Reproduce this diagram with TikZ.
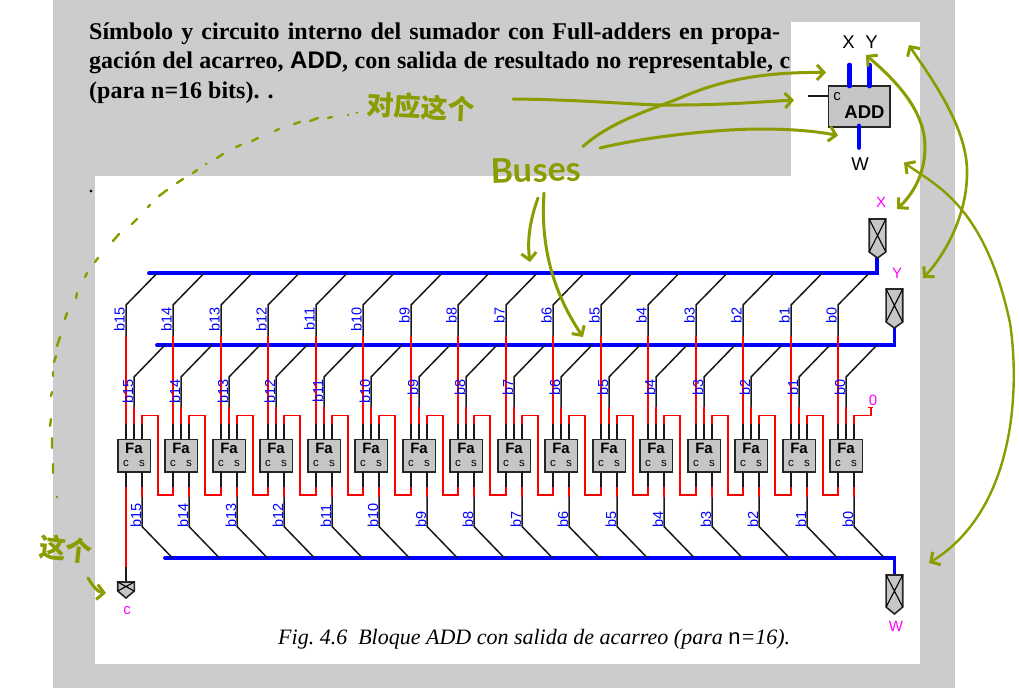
\documentclass[tikz,border=0pt]{standalone}
\usepackage{fontspec}
\setmainfont{Liberation Serif}
\setsansfont{Liberation Sans}
\newfontfamily\cjk{Noto Sans CJK SC}
\newfontfamily\hand{Lato}
\usetikzlibrary{arrows.meta}
\definecolor{panelgray}{HTML}{CCCCCC}
\definecolor{fagray}{HTML}{C6C6C6}
\definecolor{inkolive}{HTML}{8A9C00}
\definecolor{pinmagenta}{HTML}{FF00FF}
\newcommand{\pinbox}[4]{% x, top, side bottom, tip
  \draw[pinstyle] (#1-8.3,#2) -- (#1+8.3,#2) -- (#1+8.3,#3) -- (#1,#4) -- (#1-8.3,#3) -- cycle;
  \draw[line width=1.1pt,black] (#1-8.3,#2) -- (#1+8.3,#3) (#1+8.3,#2) -- (#1-8.3,#3);
}
\tikzset{
  wire/.style={line width=1.5pt,black!90},
  redwire/.style={line width=1.5pt,red,line join=miter},
  busline/.style={line width=3.8pt,blue,line cap=round,line join=miter},
  symbus/.style={line width=4.8pt,blue,line cap=round},
  pinstyle/.style={line width=1.6pt,draw=black!85,fill=fagray,line join=miter},
  fabox/.style={draw=black!85,line width=1.5pt,fill=fagray,minimum width=32.5pt,minimum height=32.5pt,inner sep=0pt,outer sep=0pt},
  fatitle/.style={font=\sffamily\bfseries\fontsize{15}{15}\selectfont,inner sep=0pt},
  faport/.style={font=\sffamily\fontsize{11.5}{11.5}\selectfont,inner sep=0pt},
  buslabel/.style={font=\sffamily\fontsize{14.5}{14.5}\selectfont,text=blue,rotate=90,inner sep=0pt},
  pinlabel/.style={font=\sffamily\fontsize{15}{15}\selectfont,text=pinmagenta,inner sep=0pt},
  symlabel/.style={font=\sffamily\fontsize{18.5}{18.5}\selectfont,inner sep=0pt},
  titleline/.style={font=\bfseries\fontsize{24}{24}\selectfont,inner sep=0pt,anchor=base west},
  ink/.style={line width=3pt,inkolive,line cap=round,line join=round},
  inkarrow/.style={ink,-{Straight Barb[length=7pt,width=15pt,line width=3pt]}},
  inkboth/.style={ink,{Straight Barb[length=7pt,width=15pt,line width=3pt]}-{Straight Barb[length=7pt,width=15pt,line width=3pt]}},
  inktext/.style={text=inkolive,inner sep=0pt},
}
\begin{document}
\begin{tikzpicture}[x=1pt,y=-1pt]
\useasboundingbox (0,0) rectangle (1019,688);
\fill[white] (0,0) rectangle (1019,688);
\fill[panelgray] (53,0) rectangle (955,688);
\fill[white] (791,22) rectangle (920,176);
\fill[white] (95,176) rectangle (920,664);

% title
\node[titleline] (t1) at (89,39) {\makebox[691pt][s]{Símbolo y circuito interno del sumador con Full-adders en propa-}};
\node[titleline] (t2) at (89,68.5) {\makebox[701pt][s]{gación del acarreo, {\sffamily ADD}, con salida de resultado no representable, c}};
\node[titleline] (t3) at (89,98) {(para n=16 bits). .};
\node[font=\fontsize{22}{22}\selectfont,inner sep=0pt,anchor=base] (dot) at (91,192) {.};

% ADD symbol
\node[draw=black!85,line width=1.6pt,fill=fagray,minimum width=61.5pt,minimum height=41.3pt,inner sep=0pt,outer sep=0pt] (add) at (859.2,106.4) {};
\node[font=\sffamily\bfseries\fontsize{18.5}{18.5}\selectfont,inner sep=0pt] (addt) at (864.5,112.5) {ADD};
\node[font=\sffamily\fontsize{15}{15}\selectfont,inner sep=0pt] (addc) at (837,96.5) {c};
\node[symlabel] (lx) at (848.5,42) {X};
\node[symlabel] (ly) at (871.5,42) {Y};
\node[symlabel] (lw) at (860,164) {W};
\coordinate (xs) at (849.3,65);
\coordinate (ys) at (869.3,65);
\coordinate (ws) at (859,147.5);
\coordinate (cs) at (808,96);
\coordinate (ca) at (828.4,96);
\coordinate (xa) at (849.3,86);
\coordinate (ya) at (869.3,86);
\coordinate (wa) at (859,126);
\draw[symbus] (xs) -- (xa);
\draw[symbus] (ys) -- (ya);
\draw[symbus] (wa) -- (ws);
\draw[wire] (cs) -- (ca);

% buses
\coordinate (b1l) at (149,273.3);
\coordinate (b1r) at (877,273.3);
\coordinate (b2l) at (157,345);
\coordinate (b2r) at (894.4,345);
\coordinate (b3l) at (165,558);
\coordinate (b3r) at (894.4,558);
\coordinate (pxb) at (877,258);
\coordinate (pyb) at (894.4,328);
\coordinate (pwt) at (894.4,575);
\draw[busline] (b1l) -- (b1r) -- (pxb);
\draw[busline] (b2l) -- (b2r) -- (pyb);
\draw[busline] (b3l) -- (b3r) -- (pwt);

% full adders
\foreach \b in {0,...,15}{
  \pgfmathsetmacro{\xa}{round(838.3-47.49*\b)}
  \pgfmathsetmacro{\xb}{\xa+8}
  \pgfmathsetmacro{\xc}{\xa+16}
  \node[fabox] (fa\b) at (\xa+8,455.7) {};
  \node[fatitle] (fat\b) at (\xa+8,448) {Fa};
  \node[faport] (fac\b) at (\xa,463) {c};
  \node[faport] (fas\b) at (\xc,463) {s};
  % upper X bus tap
  \draw[wire] (\xa+31,273.3) -- (\xa,305) -- (\xa,336);
  \draw[redwire] (\xa,336) -- (\xa,424);
  \draw[wire] (\xa,424) -- (\xa,439.4);
  % Y bus tap
  \draw[wire] (\xb+31,345) -- (\xb,377) -- (\xb,407);
  \draw[redwire] (\xb,407) -- (\xb,424);
  \draw[wire] (\xb,424) -- (\xb,439.4);
  % result
  \draw[wire] (\xc,472) -- (\xc,487);
  \draw[redwire] (\xc,487) -- (\xc,497);
  \draw[wire] (\xc,497) -- (\xc,526.5) -- (\xc+30.5,558);
  % labels
  \node[buslabel,anchor=east] (lu\b) at (\xa-6.5,307) {b\b};
  \node[buslabel,anchor=east] (lm\b) at (\xa+2,379) {b\b};
  \node[buslabel,anchor=west] (ld\b) at (\xa+10,527.5) {b\b};
  % carry-in stub
  \draw[wire] (\xc,439.4) -- (\xc,424);
}
% carry chain
\foreach \b in {0,...,14}{
  \pgfmathsetmacro{\xa}{round(838.3-47.49*(\b+1))}
  \pgfmathsetmacro{\xe}{round(838.3-47.49*\b)}
  \pgfmathsetmacro{\xc}{\xa+16}
  \pgfmathsetmacro{\xd}{\xa+32}
  \draw[redwire] (\xc,424) -- (\xc,415.6) -- (\xd,415.6) -- (\xd,495) -- (\xe,495) -- (\xe,487);
  \draw[wire] (\xe,487) -- (\xe,472);
}
% carry in 0
\node[pinlabel] (zero) at (873,400) {0};
\draw[redwire] (854,424) -- (854,415.6) -- (871,415.6) -- (871,407.5);
\draw[redwire] (868,407.5) -- (873.4,407.5);

% carry out c
\coordinate (cb) at (126,582);
\draw[wire] (126,472) -- (126,487);
\draw[redwire] (126,487) -- (126,567);
\draw[wire] (126,567) -- (cb);
\pinbox{126}{582}{591}{598}
\node[pinlabel] (pc) at (127,611) {c};

% pins
\pinbox{877.5}{219}{252}{258}
\node[pinlabel] (px) at (881,202) {X};
\pinbox{894.4}{289}{322}{328}
\node[pinlabel] (py) at (897,273) {Y};
\pinbox{894.4}{575}{607}{614}
\node[pinlabel] (pw) at (896,626) {W};

% caption
\node[font=\itshape\fontsize{22}{22}\selectfont,inner sep=0pt,anchor=base west] (cap) at (278,644) {Fig.\ 4.6\ \ Bloque ADD con salida de acarreo (para {\upshape\sffamily n}=16).};

% handwriting
\node[inktext,font=\cjk\bfseries\fontsize{27}{27}\selectfont,rotate=-3] (dui) at (421,107) {对应这个};
\node[inktext,font=\cjk\bfseries\fontsize{27}{27}\selectfont,rotate=-6] (zhe) at (66,549) {这个};
\node[inktext,font=\hand\bfseries\fontsize{34}{34}\selectfont,rotate=2] (buses) at (536,170) {Buses};

\coordinate (a1s) at (513,99);
\coordinate (a1e) at (794,100);
\coordinate (a2s) at (583,146.5);
\coordinate (a2e) at (826,72.5);
\coordinate (a3s) at (600,148);
\coordinate (a3e) at (838,135.5);
\coordinate (a4s) at (538,198);
\coordinate (a4e) at (530,262);
\coordinate (a5s) at (544,193);
\coordinate (a5e) at (583,337);
\coordinate (a6s) at (866,55);
\coordinate (a6e) at (897,209);
\coordinate (a7s) at (909,45);
\coordinate (a7e) at (923,278);
\coordinate (a8s) at (904,162.5);
\coordinate (a8e) at (929,563);
\coordinate (a9s) at (88,578);
\coordinate (a9e) at (106,593);

\draw[inkarrow] (a1s) .. controls (600,100) and (640,106) .. (680,105) .. controls (720,105) and (760,102) .. (a1e);
\draw[inkarrow] (a2s) .. controls (610,122) and (650,110) .. (680,98) .. controls (725,78) and (770,72) .. (a2e);
\draw[inkarrow] (a3s) .. controls (650,136) and (720,129) .. (760,129) .. controls (790,129) and (815,131) .. (a3e);
\draw[inkarrow] (a4s) .. controls (530,220) and (527,240) .. (a4e);
\draw[inkarrow] (a5s) .. controls (540,250) and (555,295) .. (a5e);
\draw[inkboth] (a6s) .. controls (895,80) and (925,110) .. (925,147) .. controls (925,175) and (912,195) .. (a6e);
\draw[inkboth,line width=2.6pt] (a7s) .. controls (925,70) and (968,125) .. (967,173) .. controls (967,215) and (945,255) .. (a7e);
\draw[inkboth,line width=2.4pt] (a8s) .. controls (935,185) and (985,205) .. (1010,323) .. controls (1020,390) and (1015,510) .. (a8e);
\draw[inkarrow] (a9s) .. controls (93,586) and (97,592) .. (a9e);

% dashed hand line
\draw[inkolive,line width=2.4pt,line cap=round]
  (356.7,112.7) -- (357,112.7) (348,115) -- (348.4,115) (328,118) -- (332,117)
  (310,121) -- (318,118) (294,124) -- (300,122) (275,131) -- (279,129)
  (252,141) -- (258,138) (236,147) -- (241,145) (217,158) -- (223,154)
  (206,164) -- (206.5,163.6) (193,173) -- (197,170) (177,183) -- (183,179)
  (159,196) -- (167,190) (148,207) -- (150,205) (132,224) -- (137,219)
  (113,241) -- (119,234) (95,262) -- (98,258) (85,277) -- (87,273)
  (76,298) -- (77,293) (65,319) -- (67,313) (57,346) -- (60,337)
  (54,362) -- (56,356) (53,376) -- (53,372) (51,396) -- (52,392)
  (50,426) -- (51,419) (52,448) -- (52,438) (53,473) -- (53,464)
  (57,497) -- (57.3,497.3);
\end{tikzpicture}
\end{document}
